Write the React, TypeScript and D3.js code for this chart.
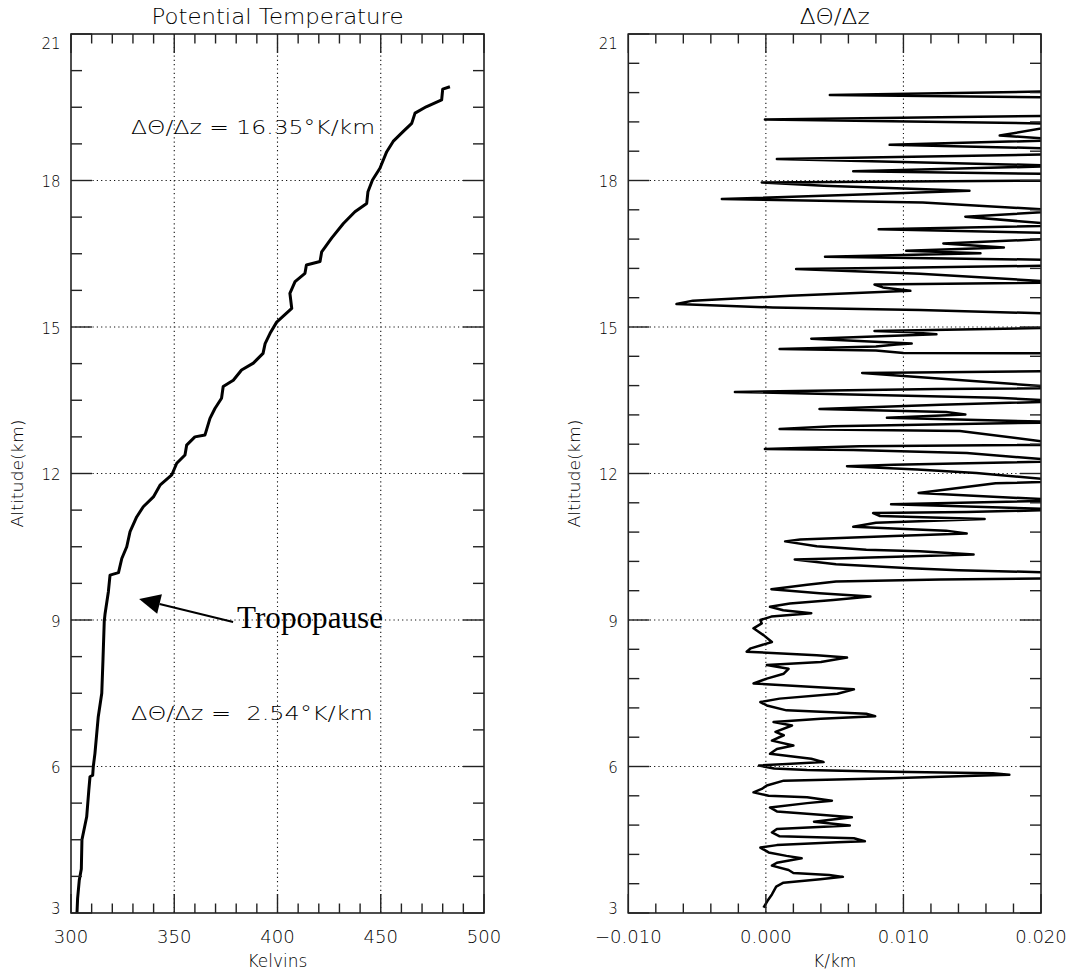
import React from 'react';
import * as d3 from 'd3';

// ---------- data ----------
const LEFT_ALT = [3.0, 3.3, 3.67, 3.9, 4.5, 4.97, 5.5, 5.79, 5.82, 6.0, 6.27, 7.02, 7.5, 8.2, 8.97, 9.13, 9.58, 9.92, 9.97, 10.26, 10.5, 10.81, 11.11, 11.32, 11.52, 11.76, 11.97, 12.21, 12.38, 12.58, 12.75, 12.79, 13.13, 13.33, 13.54, 13.78, 13.91, 14.12, 14.26, 14.46, 14.66, 14.87, 15.1, 15.38, 15.69, 15.93, 16.1, 16.27, 16.34, 16.54, 16.82, 17.12, 17.36, 17.53, 17.77, 18.01, 18.25, 18.59, 18.8, 19.0, 19.17, 19.38, 19.51, 19.65, 19.87, 19.92];
const LEFT_THETA = [302.9, 303.2, 304.0, 305.0, 305.3, 307.6, 308.6, 309.2, 310.5, 310.8, 311.6, 313.2, 314.9, 315.5, 316.1, 316.5, 318.1, 318.9, 323.0, 324.6, 327.0, 328.6, 331.8, 335.0, 339.9, 343.1, 348.8, 351.2, 355.2, 356.0, 360.0, 364.9, 367.3, 369.7, 372.9, 373.7, 378.6, 382.6, 388.3, 393.0, 394.0, 396.4, 399.6, 406.9, 406.0, 408.5, 413.3, 414.0, 420.6, 421.4, 426.2, 431.9, 437.5, 443.2, 443.8, 446.0, 449.6, 452.9, 456.0, 460.8, 465.0, 466.6, 472.0, 479.5, 480.0, 483.5];

const RIGHT_ALT = [3.11, 3.25, 3.38, 3.54, 3.62, 3.69, 3.74, 3.78, 3.82, 3.88, 3.97, 4.03, 4.12, 4.17, 4.24, 4.34, 4.39, 4.45, 4.47, 4.53, 4.57, 4.65, 4.72, 4.79, 4.87, 4.96, 5.01, 5.08, 5.16, 5.25, 5.3, 5.37, 5.4, 5.47, 5.54, 5.61, 5.71, 5.76, 5.83, 5.86, 5.9, 5.93, 5.96, 6.02, 6.09, 6.16, 6.26, 6.36, 6.43, 6.53, 6.64, 6.71, 6.84, 6.91, 6.98, 7.03, 7.08, 7.15, 7.25, 7.32, 7.39, 7.49, 7.58, 7.63, 7.7, 7.8, 7.9, 8.0, 8.08, 8.14, 8.23, 8.28, 8.35, 8.42, 8.55, 8.69, 8.83, 8.93, 9.0, 9.07, 9.14, 9.2, 9.27, 9.34, 9.41, 9.48, 9.55, 9.63, 9.72, 9.79, 9.83, 9.87, 9.95, 10.02, 10.06, 10.14, 10.24, 10.27, 10.34, 10.41, 10.44, 10.51, 10.61, 10.65, 10.72, 10.77, 10.83, 10.91, 10.99, 11.07, 11.13, 11.19, 11.21, 11.26, 11.37, 11.45, 11.6, 11.8, 11.84, 12.01, 12.08, 12.15, 12.18, 12.25, 12.42, 12.48, 12.5, 12.56, 12.59, 12.87, 12.91, 12.97, 13.05, 13.14, 13.21, 13.26, 13.32, 13.41, 13.48, 13.55, 13.67, 13.73, 13.75, 14.06, 14.1, 14.46, 14.47, 14.52, 14.55, 14.6, 14.64, 14.66, 14.76, 14.85, 14.89, 14.92, 14.99, 15.25, 15.35, 15.4, 15.47, 15.54, 15.64, 15.74, 15.81, 15.87, 15.91, 16.09, 16.19, 16.22, 16.26, 16.37, 16.44, 16.51, 16.56, 16.63, 16.71, 16.82, 16.92, 17.0, 17.08, 17.26, 17.38, 17.55, 17.62, 17.71, 17.79, 17.89, 17.96, 18.0, 18.13, 18.19, 18.3, 18.44, 18.54, 18.65, 18.73, 18.83, 18.92, 19.16, 19.25, 19.33, 19.7, 19.75, 19.83, 19.9];
const RIGHT_DTDZ = [-0.00017, 0.00012, 0.00044, 0.00075, 0.00128, 0.00395, 0.0056, 0.0046, 0.002, 0.00165, 0.00044, 0.0008, 0.0026, 0.0015, 0.0002, -0.0004, 0.0008, 0.0052, 0.0072, 0.0064, 0.001, 0.00044, 0.0008, 0.0061, 0.0035, 0.00625, 0.00395, 0.0008, 0.0003, 0.003, 0.0048, 0.003, 0.0002, -0.0009, -0.0003, 0.00007, 0.0013, 0.009, 0.0177, 0.0165, 0.008, 0.003, 0.0006, -0.0005, 0.0042, 0.0033, 0.0003, 0.0008, 0.002, 0.00044, 0.0013, 0.0007, 0.0019, 0.00056, 0.004, 0.00795, 0.0073, 0.0015, 0.00007, -0.0004, 0.001, 0.0052, 0.0064, 0.0035, -0.0009, 0.00007, 0.0013, 0.00165, 0.00007, 0.004, 0.0059, 0.0037, -0.0014, -0.0011, 0.00044, -0.00017, -0.0009, -0.0003, -0.0004, 0.0004, 0.0033, 0.00126, 0.0003, 0.00175, 0.0049, 0.0076, 0.0039, 0.0004, 0.003, 0.0051, 0.0127, 0.026, 0.024, 0.014, 0.0105, 0.0051, 0.0021, 0.00635, 0.0151, 0.0112, 0.0073, 0.0037, 0.0014, 0.0025, 0.0093, 0.0146, 0.0131, 0.00635, 0.008, 0.0159, 0.0083, 0.0078, 0.0146, 0.022, 0.0091, 0.022, 0.0111, 0.0167, 0.022, 0.0153, 0.011, 0.0059, 0.0093, 0.022, 0.0146, 0.00635, -0.00007, 0.0068, 0.022, 0.0141, 0.001, 0.0049, 0.022, 0.0088, 0.0145, 0.0131, 0.0039, 0.0127, 0.022, 0.0168, -0.00225, 0.0124, 0.022, 0.007, 0.022, 0.022, 0.01, 0.008, 0.001, 0.008, 0.0095, 0.0106, 0.0033, 0.0124, 0.0107, 0.0079, 0.022, 0.024, 0.0112, 0.0005, -0.0065, -0.0053, 0.00175, 0.0105, 0.0085, 0.0079, 0.022, 0.0112, 0.0022, 0.011, 0.022, 0.022, 0.0043, 0.0156, 0.0102, 0.0173, 0.0129, 0.022, 0.022, 0.0082, 0.022, 0.0145, 0.022, 0.0114, -0.0032, 0.00635, 0.0148, 0.0042, -0.0003, 0.022, 0.022, 0.00635, 0.022, 0.0008, 0.022, 0.022, 0.009, 0.022, 0.017, 0.022, -0.00007, 0.022, 0.022, 0.00465, 0.022, 0.025];

const LEFT_X_TICKS = [300, 350, 400, 450, 500];
const LEFT_X_LABELS = ['300', '350', '400', '450', '500'];
const RIGHT_X_TICKS = [-0.01, 0, 0.01, 0.02];
const RIGHT_X_LABELS = ['\u22120.010', '0.000', '0.010', '0.020'];
const Y_TICKS = [3, 6, 9, 12, 15, 18, 21];
const Y_LABELS = ['3', '6', '9', '12', '15', '18', '21'];

// ---------- layout ----------
const TOP = 34;
const BOTTOM = 913;
const FONT = '"DejaVu Sans", sans-serif';
const WEIGHT = 200;
const INK = '#000';

type PanelProps = {
  id: string;
  x: d3.ScaleLinear<number, number>;
  y: d3.ScaleLinear<number, number>;
  xTicks: number[];
  xLabels: string[];
  xMinorStep: number;
  yMinorStep: number;
  title: string;
  titleLen: number;
  xTitle: string;
  children?: React.ReactNode;
};

function range(a: number, b: number, step: number) {
  const out: number[] = [];
  const n = Math.round((b - a) / step);
  for (let i = 0; i <= n; i++) out.push(a + i * step);
  return out;
}

function Panel({ id, x, y, xTicks, xLabels, xMinorStep, yMinorStep, title, titleLen, xTitle, children }: PanelProps) {
  const [x0, x1] = x.range();
  const [y0, y1] = [y(21), y(3)];
  const cx = (x0 + x1) / 2;
  const xd = x.domain();
  const xMinor = range(xd[0], xd[1], xMinorStep);
  const yMinor = range(3, 21, yMinorStep);
  const isMajorX = (v: number) => xTicks.some((t) => Math.abs(t - v) < 1e-9);
  const isMajorY = (v: number) => Y_TICKS.some((t) => Math.abs(t - v) < 1e-9);
  return (
    <g>
      <defs>
        <clipPath id={id}>
          <rect x={x0} y={y0} width={x1 - x0} height={y1 - y0} />
        </clipPath>
      </defs>
      {/* grid */}
      {xTicks.slice(1, -1).map((t) => (
        <line key={'gx' + t} x1={x(t)} x2={x(t)} y1={y0} y2={y1} stroke="#111" strokeWidth={1.1} strokeDasharray="1.2 3.1" />
      ))}
      {Y_TICKS.slice(1, -1).map((t) => (
        <line key={'gy' + t} x1={x0} x2={x1} y1={y(t)} y2={y(t)} stroke="#111" strokeWidth={1.1} strokeDasharray="1.2 3.1" />
      ))}
      {/* data */}
      <g clipPath={`url(#${id})`}>{children}</g>
      {/* frame */}
      <rect x={x0} y={y0} width={x1 - x0} height={y1 - y0} fill="none" stroke="#222" strokeWidth={1.6} />
      {/* x ticks */}
      {xMinor.map((v) => {
        const len = isMajorX(v) ? 19 : 9.5;
        return (
          <g key={'xt' + v}>
            <line x1={x(v)} x2={x(v)} y1={y1} y2={y1 - len} stroke="#222" strokeWidth={1.4} />
            <line x1={x(v)} x2={x(v)} y1={y0} y2={y0 + len} stroke="#222" strokeWidth={1.4} />
          </g>
        );
      })}
      {/* y ticks */}
      {yMinor.map((v) => {
        const len = isMajorY(v) ? 21 : 11;
        return (
          <g key={'yt' + v}>
            <line x1={x0} x2={x0 + len} y1={y(v)} y2={y(v)} stroke="#222" strokeWidth={1.4} />
            <line x1={x1} x2={x1 - len} y1={y(v)} y2={y(v)} stroke="#222" strokeWidth={1.4} />
          </g>
        );
      })}
      {/* x labels */}
      {xTicks.map((t, i) => (
        <text key={'xl' + t} x={x(t)} y={943} textAnchor="middle" fontFamily={FONT} fontWeight={WEIGHT} fontSize={18} fill={INK}>
          {xLabels[i]}
        </text>
      ))}
      {/* y labels */}
      {Y_TICKS.map((t, i) => {
        let by = y(t) + 6.5;
        if (t === 21) by = y(t) + 14.5;
        if (t === 3) by = y(t) + 1;
        return (
          <text key={'yl' + t} x={x0 - 10.5} y={by} textAnchor="end" fontFamily={FONT} fontWeight={WEIGHT} fontSize={15} fill={INK}>
            {Y_LABELS[i]}
          </text>
        );
      })}
      {/* titles */}
      <text x={cx} y={24} textAnchor="middle" fontFamily={FONT} fontWeight={WEIGHT} fontSize={21} fill={INK} textLength={titleLen} lengthAdjust="spacingAndGlyphs">
        {title}
      </text>
      <text x={cx} y={967} textAnchor="middle" fontFamily={FONT} fontWeight={WEIGHT} fontSize={17} fill={INK}>
        {xTitle}
      </text>
      <text
        transform={`translate(${x0 - 48},${(y0 + y1) / 2}) rotate(-90)`}
        textAnchor="middle"
        fontFamily={FONT}
        fontWeight={WEIGHT}
        fontSize={16}
        fill={INK}
        textLength={108}
        lengthAdjust="spacingAndGlyphs"
      >
        Altitude(km)
      </text>
    </g>
  );
}

export default function App() {
  const y = d3.scaleLinear().domain([3, 21]).range([BOTTOM, TOP]);
  const xL = d3.scaleLinear().domain([300, 500]).range([71, 484]);
  const xR = d3.scaleLinear().domain([-0.01, 0.02]).range([628.3, 1041]);

  const leftPts: [number, number][] = LEFT_ALT.map((a, i) => [LEFT_THETA[i], a]);
  const rightPts: [number, number][] = RIGHT_ALT.map((a, i) => [RIGHT_DTDZ[i], a]);

  const lineL = d3
    .line<[number, number]>()
    .x((d) => xL(d[0]))
    .y((d) => y(d[1]));
  const lineR = d3
    .line<[number, number]>()
    .x((d) => xR(d[0]))
    .y((d) => y(d[1]));

  // arrow annotation (data coords)
  const tail: [number, number] = [xL(378.5), y(8.96)];
  const tip: [number, number] = [xL(333), y(9.43)];
  const dx = tip[0] - tail[0];
  const dy = tip[1] - tail[1];
  const L = Math.hypot(dx, dy);
  const ux = dx / L;
  const uy = dy / L;
  const headLen = 21;
  const headHalf = 10;
  const bx = tip[0] - ux * headLen;
  const by = tip[1] - uy * headLen;
  const head = `${tip[0]},${tip[1]} ${bx - uy * headHalf},${by + ux * headHalf} ${bx + uy * headHalf},${by - ux * headHalf}`;

  return (
    <svg width={1072} height={974} style={{ position: 'absolute', left: 0, top: 0, background: '#fff' }}>
      <rect x={0} y={0} width={1072} height={974} fill="#fff" />
      <Panel
        id="clipL"
        x={xL}
        y={y}
        xTicks={LEFT_X_TICKS}
        xLabels={LEFT_X_LABELS}
        xMinorStep={10}
        yMinorStep={0.75}
        title="Potential Temperature"
        titleLen={252}
        xTitle="Kelvins"
      >
        <path d={lineL(leftPts) || ''} fill="none" stroke="#000" strokeWidth={3} strokeLinejoin="round" />
      </Panel>
      <Panel
        id="clipR"
        x={xR}
        y={y}
        xTicks={RIGHT_X_TICKS}
        xLabels={RIGHT_X_LABELS}
        xMinorStep={0.002}
        yMinorStep={0.6}
        title={'\u0394\u0398/\u0394z'}
        titleLen={70}
        xTitle="K/km"
      >
        <path d={lineR(rightPts) || ''} fill="none" stroke="#000" strokeWidth={2.5} strokeLinejoin="round" />
      </Panel>

      {/* annotations */}
      <text x={131} y={133.5} fontFamily={FONT} fontWeight={WEIGHT} fontSize={20} fill={INK} textLength={244} lengthAdjust="spacingAndGlyphs" style={{ whiteSpace: 'pre' }}>
        {'\u0394\u0398/\u0394z = 16.35\u00B0K/km'}
      </text>
      <text x={131} y={720} fontFamily={FONT} fontWeight={WEIGHT} fontSize={20} fill={INK} textLength={242} lengthAdjust="spacingAndGlyphs" style={{ whiteSpace: 'pre' }}>
        {'\u0394\u0398/\u0394z =  2.54\u00B0K/km'}
      </text>
      <line x1={tail[0]} y1={tail[1]} x2={bx} y2={by} stroke="#000" strokeWidth={2} />
      <polygon points={head} fill="#000" />
      <text x={237} y={628} fontFamily='"Liberation Serif", "Times New Roman", serif' fontSize={31} fill="#000" textLength={146} lengthAdjust="spacingAndGlyphs">
        Tropopause
      </text>
    </svg>
  );
}
